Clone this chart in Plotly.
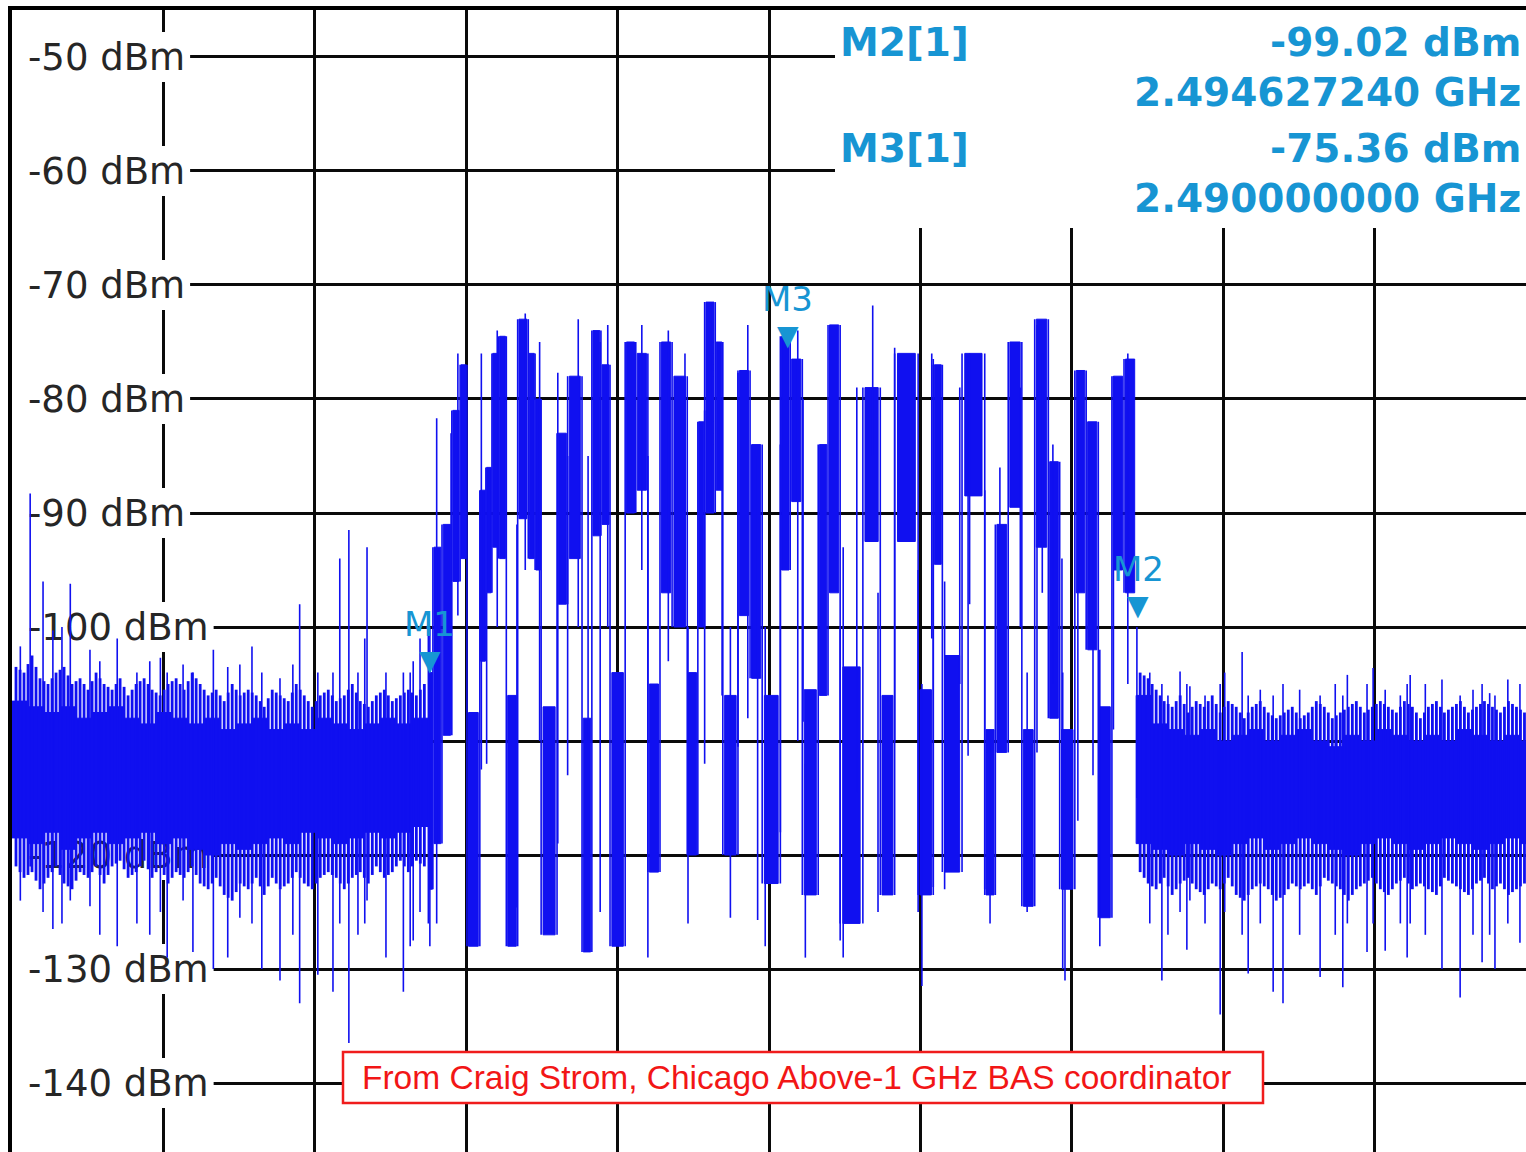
import numpy as np
import plotly.graph_objects as go

# ---------------- data ----------------
f_start, f_stop = 2479.75, 2499.75          # MHz, 20 MHz span, 2 MHz/div
level_bottom, level_top = -146.05, -45.88   # dBm shown
y_ticks = [-50, -60, -70, -80, -90, -100, -110, -120, -130, -140]
y_tick_labels = [f"{v} dBm" for v in y_ticks]

# noise floor left of the hopping band: outer extent of the trace (8-px columns)
left_floor_hi = [-103.5, -104, -102.5, -104.5, -105, -104, -103.5, -105, -104.5, -105.5,
                 -104, -105, -105.5, -104.5, -106, -105, -104.5, -105.5, -106, -105,
                 -104.5, -105.5, -104, -105, -106, -105.5, -106.5, -105, -106, -105.5,
                 -106, -107, -105.5, -106, -106.5, -105, -106, -107, -106, -105.5,
                 -106.5, -106, -105, -106.5, -107, -106, -105.5, -106.5, -106, -105.5,
                 -106, -105]
left_floor_lo = [-121, -122, -121.5, -123, -122, -121, -122.5, -123, -121.5, -122,
                 -121, -122.5, -121, -120.5, -122, -121.5, -120.5, -122, -121, -122.5,
                 -121.5, -122, -121, -122.5, -123, -122, -123.5, -124, -122.5, -123,
                 -122, -123.5, -122, -123, -122.5, -121.5, -122.5, -123, -122, -121.5,
                 -122, -123, -122, -121.5, -122.5, -121, -122, -121.5, -120.5, -121.5,
                 -120.5, -121]
# solid core of the left noise floor (16-px columns)
left_core_hi = [-106.5, -107, -107.5, -107, -108, -107.5, -107, -108, -108.5, -107.5,
                -108, -108.5, -108, -109, -108.5, -108, -109, -108.5, -109, -108,
                -108.5, -109, -108.5, -108, -108.5, -108]
left_core_lo = [-118.5, -119, -118, -119.5, -118.5, -118, -119, -118.5, -118, -119,
                -118.5, -119.5, -120, -119, -119.5, -119, -118.5, -119, -118, -118.5,
                -119, -118.5, -118, -118.5, -118, -117.5]
# noise floor right of the hopping band
right_floor_hi = [-104, -104.5, -105.5, -106.5, -107, -106, -107.5, -106.5, -107, -106,
                  -107.5, -106.5, -107, -108, -107, -106.5, -107.5, -108, -107.5, -107,
                  -108, -107.5, -106.5, -107, -108, -107.5, -107, -106.5, -107.5, -107,
                  -106.5, -107, -107.5, -106.5, -107, -108, -107, -106.5, -107.5, -107,
                  -106.5, -107.5, -107, -106.5, -107, -107.5, -106.5, -107, -107.5]
right_floor_lo = [-121.5, -122.5, -123, -122, -123.5, -122.5, -122, -123, -123.5, -122.5,
                  -123, -122, -123.5, -124, -123, -122.5, -123, -124, -123.5, -122.5,
                  -123, -122.5, -123.5, -122, -122.5, -123, -124, -123, -122.5, -122,
                  -123, -123.5, -122.5, -122, -123, -122.5, -123, -123.5, -122, -122.5,
                  -123, -123.5, -122.5, -122, -123, -122.5, -123.5, -123, -122.5]
right_core_hi = [-106, -108.5, -109, -109.5, -109, -110, -109.5, -109, -110, -109.5,
                 -109, -110, -110.5, -109.5, -110, -109, -109.5, -110, -109.5, -110,
                 -109, -109.5, -110, -109.5, -110]
right_core_lo = [-119, -119.5, -120, -119, -119.5, -120, -119, -118.5, -119.5, -119,
                 -118.5, -119, -119.5, -120, -119, -118.5, -119, -119.5, -119, -118.5,
                 -119, -119.5, -119, -118.5, -119]

# hopping band: frequency edges of each burst column (MHz) and its upper / lower level
burst_edges = [2485.25, 2485.31, 2485.43, 2485.56, 2485.67, 2485.76, 2485.93, 2486.01, 2486.09, 2486.18,
               2486.28, 2486.43, 2486.57, 2486.66, 2486.74, 2486.95, 2487.09, 2487.28, 2487.41, 2487.53,
               2487.65, 2487.85, 2487.99, 2488.15, 2488.31, 2488.47, 2488.67, 2488.81, 2488.90, 2489.04,
               2489.14, 2489.34, 2489.50, 2489.66, 2489.90, 2490.03, 2490.19, 2490.40, 2490.53, 2490.69,
               2490.99, 2491.22, 2491.41, 2491.72, 2491.92, 2492.04, 2492.30, 2492.60, 2492.74, 2492.91,
               2493.09, 2493.26, 2493.44, 2493.59, 2493.79, 2493.94, 2494.10, 2494.28, 2494.44, 2494.60]
burst_hi = [-104, -93, -91, -81, -77, -107.5, -88, -86, -76, -74.5,
            -106, -73, -76, -80, -107, -83, -78, -108, -74, -77,
            -104, -75, -76, -105, -75, -78, -104, -82, -71.5, -75,
            -106, -77.5, -84, -106, -74.5, -76.5, -105.5, -84, -73.5, -103.5,
            -79, -106, -76, -105.5, -77, -102.5, -76, -109, -91, -75,
            -109, -73, -85.5, -109, -77.5, -82, -107, -78, -76.5]
burst_lo = [-123, -119, -109.5, -96, -94, -128, -103, -97, -93, -94,
            -128, -90.5, -94, -95, -127, -98, -94, -128.5, -92, -91,
            -128, -90, -88, -121.5, -97, -100, -120, -100, -90, -88,
            -120, -99, -104.5, -122.5, -95, -89, -123.5, -106, -97, -126,
            -92.5, -123.5, -92.5, -123.5, -94.5, -121.5, -88.5, -123.5, -111, -89.5,
            -124.5, -93, -108, -123, -97, -102, -125.5, -95, -97]

# thin single-sweep spikes: frequency (MHz), top and bottom level (dBm)
spike_f = [2479.86, 2479.99, 2480.16, 2480.29, 2480.41, 2480.52, 2480.78, 2480.91, 2481.14, 2481.40,
           2481.57, 2481.71, 2481.80, 2482.01, 2482.14, 2482.41, 2482.60, 2482.76, 2482.92, 2483.05,
           2483.29, 2483.46, 2483.55, 2483.79, 2483.99, 2484.08, 2484.20, 2484.32, 2484.41, 2484.44,
           2484.69, 2484.92, 2485.01, 2485.05, 2485.14,
           2485.25, 2485.27, 2485.36, 2485.55, 2485.64, 2485.95, 2486.02, 2486.16, 2486.42, 2486.53,
           2486.72, 2486.96, 2487.09, 2487.23, 2487.36, 2487.52, 2487.62, 2488.07, 2488.15, 2488.42,
           2488.64, 2488.68, 2488.90, 2489.00, 2489.13, 2489.24, 2489.34, 2489.47, 2489.60, 2489.70,
           2489.90, 2490.13, 2490.20, 2490.23, 2490.69, 2490.73, 2490.91, 2491.12, 2491.19, 2491.41,
           2491.72, 2491.77, 2491.90, 2491.92, 2492.07, 2492.27, 2492.38, 2492.40, 2492.60, 2492.67,
           2492.80, 2493.07, 2493.16, 2493.29, 2493.36, 2493.50, 2493.62, 2493.63, 2493.66, 2493.83,
           2494.03, 2494.12, 2494.30, 2494.49,
           2494.61, 2494.78, 2494.94, 2495.02, 2495.18, 2495.27, 2495.31, 2495.51, 2495.71, 2495.77,
           2496.00, 2496.08, 2496.24, 2496.41, 2496.54, 2496.76, 2497.03, 2497.23, 2497.33, 2497.39,
           2497.65, 2497.73, 2497.89, 2498.09, 2498.18, 2498.22, 2498.42, 2498.64, 2498.88, 2499.05,
           2499.17, 2499.27, 2499.34, 2499.51, 2499.67]
spike_top = [-101.7, -88.3, -96, -100.3, -100, -96.2, -102, -103, -101, -104,
             -103, -102.7, -104, -103.3, -104, -102, -103.5, -103.3, -101.7, -104,
             -104.5, -103.3, -98, -104, -104, -94, -91.5, -104, -101, -93,
             -104, -104, -104, -103, -101,
             -99, -100, -81.7, -83, -76, -76, -97, -74, -91, -72.5,
             -75, -77.7, -85, -73, -85, -75, -73.5, -73.5, -85, -74,
             -76, -100, -81, -71.5, -80, -100, -77.7, -73.5, -85, -100,
             -84, -74, -80, -112, -100, -93, -79, -71.8, -97, -75.5,
             -95, -105, -76, -76.5, -96, -79, -76.5, -76, -88, -110,
             -86, -79, -104, -73.5, -76, -84, -94, -104, -110, -78,
             -88, -102, -78, -76,
             -100, -104, -105, -106, -103.9, -105, -105.2, -106, -105, -104,
             -102.2, -106, -105.5, -106, -105, -105.5, -106, -105, -106, -104.2,
             -105, -103.6, -105.5, -106, -105, -104.2, -105, -104.6, -106, -105.5,
             -105, -105.8, -106, -104.6, -105]
spike_bot = [-124, -121, -125, -126.5, -126, -124, -124.5, -127, -128, -126,
             -127, -125, -129, -124, -128.5, -130, -129, -125.5, -126, -130,
             -131, -127, -133, -130.5, -132, -126, -136.5, -127, -126, -124,
             -129, -132, -128, -127.5, -125,
             -126, -128, -126, -109, -99, -112.5, -112, -100, -124.6, -95,
             -110, -119, -113, -100, -110, -125, -100, -95, -129, -103,
             -95, -126, -112, -90, -106, -125.5, -110.5, -108, -125.7, -128,
             -118, -110, -108.3, -129, -127.5, -129, -114.5, -85, -125, -110,
             -125, -131.5, -101, -122.8, -123, -105, -111.3, -98, -123, -126,
             -108, -100, -125, -111, -97, -105, -112, -130, -131, -117,
             -113, -128, -109, -105,
             -115, -126, -131, -127, -125, -128.3, -124, -126, -134, -125,
             -127, -130.4, -126, -132, -133, -127, -130.7, -127, -131.6, -126,
             -128.5, -126, -128.4, -126, -129, -126, -127, -130, -132.5, -127,
             -129.4, -127, -130, -126, -127.7]

# markers
marker_names = ["M1", "M2", "M3"]
marker_f = [2485.27, 2494.62724, 2490.00]
marker_dbm = [-103.9, -99.02, -75.36]
readout_lines = [("M2[1]", "-99.02 dBm"), ("", "2.494627240 GHz"),
                 ("M3[1]", "-75.36 dBm"), ("", "2.490000000 GHz")]
note_text = "From Craig Strom, Chicago Above-1 GHz BAS coordinator"

# ---------------- build ----------------
TRACE = "#1010f0"
MARK = "#1795d3"
PLOT_W, PLOT_H, L, T = 1514, 1142, 12, 10

span = f_stop - f_start
lspan = level_top - level_bottom
col_w = (burst_edges[0] - f_start) / len(left_floor_hi)
left_edges = np.linspace(f_start, burst_edges[0], len(left_floor_hi) + 1)
right_edges = burst_edges[-1] + col_w * np.arange(len(right_floor_hi) + 1)
left_core_edges = np.linspace(f_start, burst_edges[0], len(left_core_hi) + 1)
right_core_edges = burst_edges[-1] + 2 * col_w * np.arange(len(right_core_hi) + 1)


def px2f(px):   # screen x -> frequency (for placing layout items)
    return f_start + (px - L) / PLOT_W * span


def py2l(py):   # screen y -> level
    return level_top - (py - T) / PLOT_H * lspan


def rects(edges, hi, lo, inset=0.0):
    xs, ys = [], []
    for i in range(len(hi)):
        w = edges[i + 1] - edges[i]
        x0, x1 = edges[i] + inset * w, edges[i + 1] - inset * w
        xs += [x0, x1, x1, x0, x0, None]
        ys += [lo[i], lo[i], hi[i], hi[i], lo[i], None]
    return xs, ys


def column_lines(edges, hi, lo):
    """vertical trace strokes: one per column centre, plus transitions at column edges"""
    xs, ys = [], []
    for i in range(len(hi)):
        c = 0.5 * (edges[i] + edges[i + 1])
        xs += [c, c, None]
        ys += [lo[i], hi[i], None]
        if i + 1 < len(hi):
            e = edges[i + 1]
            xs += [e, e, None]
            ys += [0.5 * (lo[i] + lo[i + 1]), 0.5 * (hi[i] + hi[i + 1]), None]
    return xs, ys


# solid parts: noise-floor cores and burst columns
bx, by = [], []
for e, h, l, ins in [(left_core_edges, left_core_hi, left_core_lo, 0.0),
                     (burst_edges, burst_hi, burst_lo, 0.12),
                     (right_core_edges, right_core_hi, right_core_lo, 0.0)]:
    xs, ys = rects(e, h, l, ins)
    bx += xs
    by += ys

# stroked parts: noise-floor fuzz
fx, fy = [], []
for e, h, l in [(left_edges, left_floor_hi, left_floor_lo),
                (right_edges, right_floor_hi, right_floor_lo)]:
    xs, ys = column_lines(e, h, l)
    fx += xs
    fy += ys

# thin lines: single spikes plus vertical transitions between burst columns
sx, sy = [], []
for f, t, b in zip(spike_f, spike_top, spike_bot):
    sx += [f, f, None]
    sy += [b, t, None]
for i in range(len(burst_hi) - 1):
    f = burst_edges[i + 1]
    sx += [f, f, None]
    sy += [min(burst_lo[i], burst_lo[i + 1]), max(burst_hi[i], burst_hi[i + 1]), None]

fig = go.Figure()

# white backgrounds (cover grid behind labels and marker readout)
LBL_SIZE, LBL_X = 37, 28
wx, wy = [], []
for lab, v in zip(y_tick_labels, y_ticks):
    w_em = 4.246 + 0.636 * (len(lab) - 7)
    end_px = LBL_X + 2 + w_em * LBL_SIZE + 3
    x0, x1 = f_start - 0.2, px2f(end_px)
    wx += [x0, x1, x1, x0, x0, None]
    wy += [v - 2.2, v - 2.2, v + 2.2, v + 2.2, v - 2.2, None]
x0, x1, y0, y1 = px2f(835), f_stop + 0.2, py2l(228), level_top + 1
wx += [x0, x1, x1, x0, x0, None]
wy += [y0, y0, y1, y1, y0, None]
fig.add_trace(go.Scatter(x=wx, y=wy, mode="lines", fill="toself", fillcolor="white",
                         line=dict(width=0, color="white"), hoverinfo="skip", showlegend=False))

# level labels (drawn under the trace, as on the analyzer)
fig.add_trace(go.Scatter(
    x=[px2f(LBL_X)] * len(y_ticks), y=[v - 0.35 for v in y_ticks], mode="text",
    text=y_tick_labels, textposition="middle right",
    textfont=dict(family="DejaVu Sans", size=LBL_SIZE, color="#262626"),
    hoverinfo="skip", showlegend=False, cliponaxis=False))

fig.add_trace(go.Scatter(x=bx, y=by, mode="lines", fill="toself", fillcolor=TRACE,
                         line=dict(color=TRACE, width=1), hoverinfo="skip", showlegend=False))
fig.add_trace(go.Scatter(x=fx, y=fy, mode="lines", line=dict(color=TRACE, width=2.8),
                         hoverinfo="skip", showlegend=False))
fig.add_trace(go.Scatter(x=sx, y=sy, mode="lines", line=dict(color=TRACE, width=1.6),
                         hoverinfo="skip", showlegend=False))

shapes = [dict(type="rect", layer="above", xref="paper", yref="paper",
               x0=(343 - L) / PLOT_W, x1=(1263 - L) / PLOT_W,
               y0=1 - (1103 - T) / PLOT_H, y1=1 - (1052 - T) / PLOT_H,
               fillcolor="white", line=dict(color="#f01c1c", width=2.5))]

ann = []
for name, f, v in zip(marker_names, marker_f, marker_dbm):
    ann.append(dict(x=f, y=v, xref="x", yref="y", text="▼", showarrow=False,
                    yanchor="bottom", yshift=-8,
                    font=dict(family="DejaVu Sans", size=28, color=MARK)))
    ann.append(dict(x=f, y=v, xref="x", yref="y", text=name, showarrow=False,
                    yanchor="middle", yshift=47,
                    font=dict(family="DejaVu Sans", size=34, color=MARK)))

row_y = [42, 93, 148, 198]
for (lt, rt), py in zip(readout_lines, row_y):
    yp = 1 - (py - T) / PLOT_H
    if lt:
        ann.append(dict(x=(838 - L) / PLOT_W, y=yp, xref="paper", yref="paper", text=lt,
                        showarrow=False, xanchor="left", yanchor="middle",
                        font=dict(family="DejaVu Sans", size=39, color=MARK, weight="bold")))
    ann.append(dict(x=(1523 - L) / PLOT_W, y=yp, xref="paper", yref="paper", text=rt,
                    showarrow=False, xanchor="right", yanchor="middle",
                    font=dict(family="DejaVu Sans", size=39, color=MARK, weight="bold")))

ann.append(dict(x=(796 - L) / PLOT_W, y=1 - (1077 - T) / PLOT_H, xref="paper", yref="paper",
                text=note_text, showarrow=False, xanchor="center", yanchor="middle",
                font=dict(family="Liberation Sans", size=33.5, color="#f21616")))

fig.update_layout(
    width=1526, height=1152,
    margin=dict(l=L, r=0, t=T, b=0),
    paper_bgcolor="white", plot_bgcolor="white", showlegend=False,
    shapes=shapes, annotations=ann,
    xaxis=dict(range=[f_start, f_stop], side="top", showline=True, linewidth=4,
               linecolor="black", showgrid=True, gridcolor="#0a0a0a", gridwidth=2.5,
               tick0=f_start, dtick=2, showticklabels=False, ticks="", zeroline=False),
    yaxis=dict(range=[level_bottom, level_top], showline=True, linewidth=4,
               linecolor="black", showgrid=True, gridcolor="#0a0a0a", gridwidth=2.5,
               tick0=-150, dtick=10, showticklabels=False, ticks="", zeroline=False),
)

fig.write_html("out.html", config={"displayModeBar": False},
               post_script="document.body.style.margin='0px';document.body.style.overflow='hidden';")
